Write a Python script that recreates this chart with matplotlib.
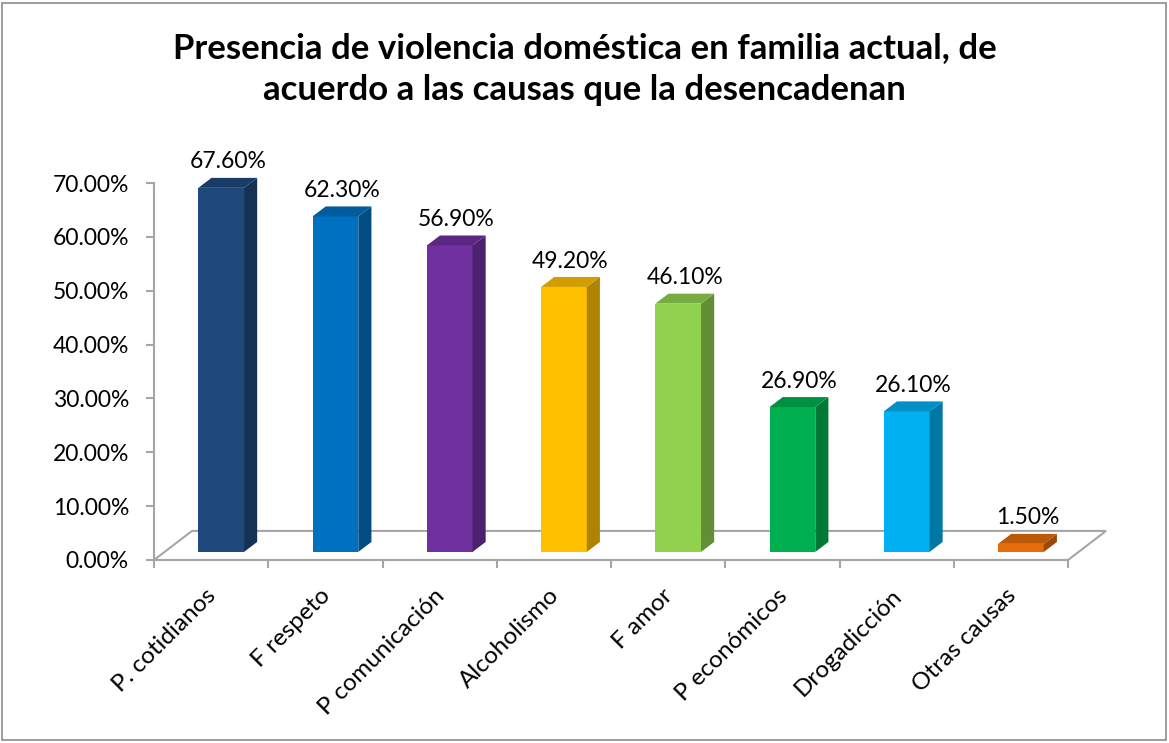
import numpy as np
import matplotlib.pyplot as plt
from matplotlib.patches import Polygon, Rectangle
from matplotlib.colors import to_rgb
from matplotlib.transforms import ScaledTranslation

plt.rcParams['font.family'] = ['Lato', 'DejaVu Sans']

# data
categories = ['P. cotidianos', 'F respeto', 'P comunicación', 'Alcoholismo',
              'F amor', 'P económicos', 'Drogadicción', 'Otras causas']
values = [67.6, 62.3, 56.9, 49.2, 46.1, 26.9, 26.1, 1.5]
colors = ['#1F497D', '#0070C0', '#7030A0', '#FFC000',
          '#92D050', '#00B050', '#00B0F0', '#E46C0A']
yticks = [0, 10, 20, 30, 40, 50, 60, 70]

title = ('Presencia de violencia doméstica en familia actual, de\n'
         'acuerdo a las causas que la desencadenan')

# fake 3d offsets (in data units)
floor_dx, floor_dy = 0.333, 5.4
front_dx, front_dy = 0.088, 1.5
depth_dx, depth_dy = 0.115, 1.85
bar_w = 0.4
grey = '#A6A6A6'


def shade(c, f):
    r, g, b = to_rgb(c)
    return (r * f, g * f, b * f)


fig = plt.figure(figsize=(11.69, 7.43), dpi=100)
ax = fig.add_axes([154 / 1169, 183 / 743, 914 / 1169, 377 / 743])
ax.set_xlim(0, 8)
ax.set_ylim(0, 70)

# outer border of the chart area
fig.patches.append(Rectangle((2 / 1169, 3 / 743), 1164 / 1169, 737 / 743,
                             transform=fig.transFigure, fill=False,
                             edgecolor='#8C8C8C', lw=1.2))

# floor
n = len(categories)
floor = Polygon([(0, 0), (n, 0), (n + floor_dx, floor_dy), (floor_dx, floor_dy)],
                closed=True, facecolor='white', edgecolor=grey, lw=1.5,
                clip_on=False, zorder=1)
ax.add_patch(floor)

for i, (v, c) in enumerate(zip(values, colors)):
    x0 = i + 0.5 - bar_w / 2 + front_dx
    y0 = front_dy
    x1 = x0 + bar_w
    y1 = y0 + v
    front = Polygon([(x0, y0), (x1, y0), (x1, y1), (x0, y1)], closed=True,
                    facecolor=c, edgecolor='none', clip_on=False, zorder=3)
    side = Polygon([(x1, y0), (x1 + depth_dx, y0 + depth_dy),
                    (x1 + depth_dx, y1 + depth_dy), (x1, y1)], closed=True,
                   facecolor=shade(c, 0.68), edgecolor='none', clip_on=False, zorder=3)
    top = Polygon([(x0, y1), (x1, y1), (x1 + depth_dx, y1 + depth_dy),
                   (x0 + depth_dx, y1 + depth_dy)], closed=True,
                  facecolor=shade(c, 0.82), edgecolor='none', clip_on=False, zorder=3)
    for p in (front, side, top):
        ax.add_patch(p)
    ax.text(x0 + bar_w / 2 + depth_dx / 2, y1 + depth_dy + 1.0, f'{v:.2f}%',
            ha='center', va='bottom', fontsize=16.5, color='black', zorder=4,
            clip_on=False)

# axes
for s in ['top', 'right']:
    ax.spines[s].set_visible(False)
for s in ['left', 'bottom']:
    ax.spines[s].set_color(grey)
    ax.spines[s].set_linewidth(1.5)
ax.set_yticks(yticks)
ax.set_yticklabels([f'{t:.2f}%' for t in yticks])
ax.set_xticks(np.arange(n + 1))
ax.set_xticklabels([])
ax.tick_params(axis='both', which='major', direction='out', length=6,
               color=grey, width=1.5, labelsize=16.5, pad=12)
ax.set_facecolor('none')

# category labels, rotated, ending just under each category centre
lab_tr = ax.get_xaxis_transform() + ScaledTranslation(-6 / 100, -25 / 100, fig.dpi_scale_trans)
for i, cat in enumerate(categories):
    ax.text(i + 0.5, 0, cat, transform=lab_tr, rotation=45, ha='right', va='top',
            rotation_mode='anchor', fontsize=17.5, clip_on=False)

fig.text(0.5, 1 - 69 / 743, title, ha='center', va='center',
         fontsize=25, fontweight='bold', linespacing=1.38)

fig.savefig('out.png', dpi=100)
